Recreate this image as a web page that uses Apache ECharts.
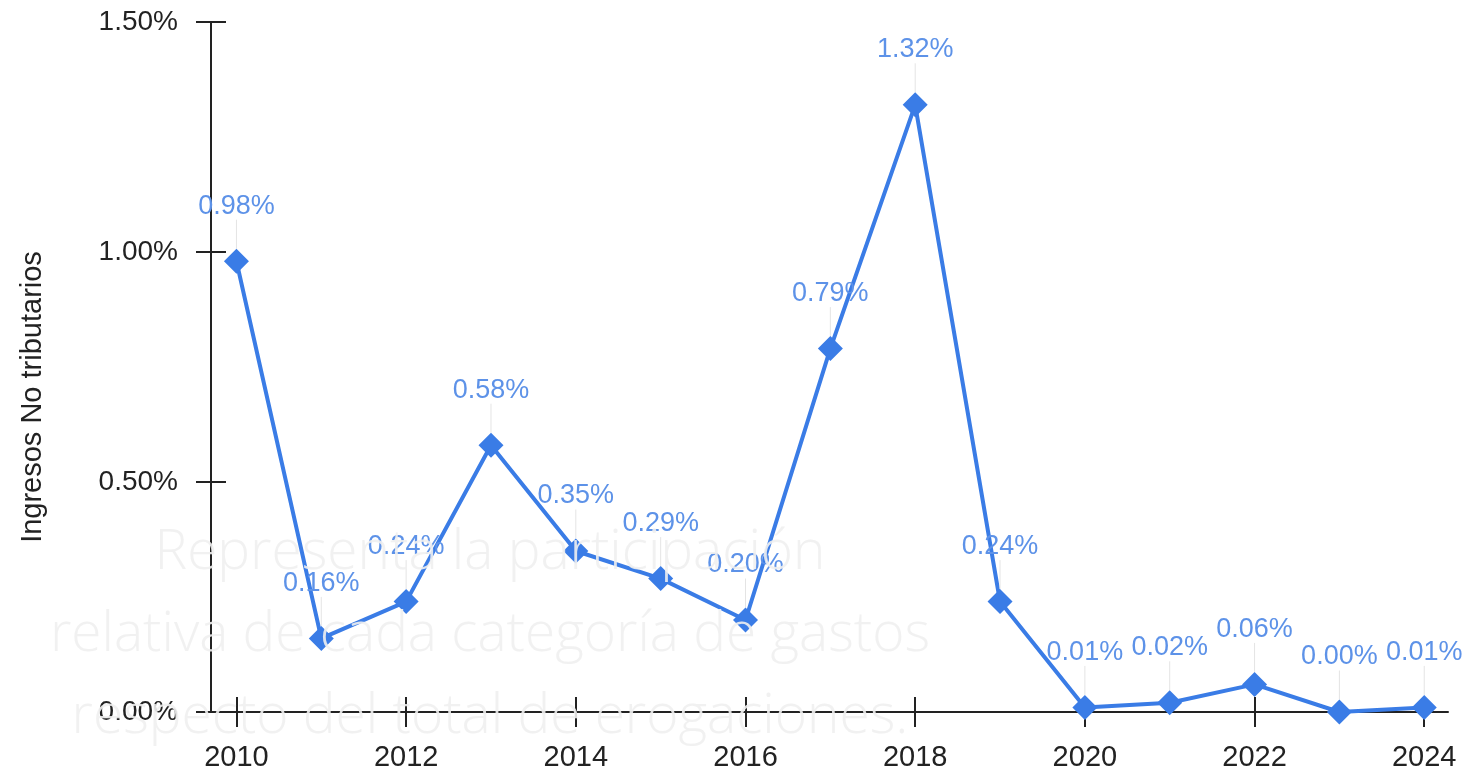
<!DOCTYPE html>
<html><head><meta charset="utf-8">
<script src="https://cdn.jsdelivr.net/npm/echarts@6/dist/echarts.min.js"></script>
<style>html,body{margin:0;padding:0;background:#fff}#c{width:1468px;height:779px}</style>
</head><body><div id="c"></div>
<script>
const years = [2010,2011,2012,2013,2014,2015,2016,2017,2018,2019,2020,2021,2022,2023,2024];
const values = [0.98,0.16,0.24,0.58,0.35,0.29,0.20,0.79,1.32,0.24,0.01,0.02,0.06,0.00,0.01];
const xTicks = [2010,2012,2014,2016,2018,2020,2022,2024];
const yTicks = [0,0.5,1.0,1.5];
const yTitle = 'Ingresos No tributarios';
const watermark = ['Representa la participación','relativa de cada categoría de gastos','respecto del total de erogaciones.'];

const chart = echarts.init(document.getElementById('c'), null, {renderer:'canvas'});
const fam = 'Liberation Sans, Arial, sans-serif';
const xBase = {type:'value', min:2009.7, max:2024.28, splitLine:{show:false}};
const yBase = {type:'value', min:0, max:1.5, interval:0.5, splitLine:{show:false}};
chart.setOption({
  animation:false,
  grid:{left:211, right:20, top:22, bottom:67},
  xAxis:[
    Object.assign({}, xBase, {
      axisLine:{show:true, onZero:false, lineStyle:{color:'#222', width:2}},
      axisTick:{show:true, length:15, customValues:xTicks, lineStyle:{color:'#222', width:2}},
      axisLabel:{margin:31, customValues:xTicks, formatter:v=>String(v), fontFamily:fam, fontSize:29, color:'#222'}
    }),
    Object.assign({}, xBase, {position:'bottom',
      axisLine:{show:false},
      axisTick:{show:true, inside:true, length:15, customValues:xTicks, lineStyle:{color:'#222', width:2}},
      axisLabel:{show:false}
    })
  ],
  yAxis:[
    Object.assign({}, yBase, {
      axisLine:{show:true, lineStyle:{color:'#222', width:2}},
      axisTick:{show:true, length:15, customValues:yTicks, lineStyle:{color:'#222', width:2}},
      axisLabel:{margin:33, customValues:yTicks, formatter:v=>v.toFixed(2)+'%', fontFamily:fam, fontSize:28, color:'#222'}
    }),
    Object.assign({}, yBase, {position:'left',
      axisLine:{show:false},
      axisTick:{show:true, inside:true, length:15, customValues:yTicks, lineStyle:{color:'#222', width:2}},
      axisLabel:{show:false}
    })
  ],
  series:[{
    type:'line',
    data:years.map((y,i)=>[y, values[i]]),
    symbol:'diamond', symbolSize:25,
    lineStyle:{color:'#3a7ce6', width:4},
    itemStyle:{color:'#3a7ce6'},
    label:{show:true, position:'top', distance:5, color:'#5d92e8',
      fontFamily:fam, fontSize:27,
      formatter:p=>p.value[1].toFixed(2)+'%'},
    labelLayout:{dy:-24},
    labelLine:{show:true, lineStyle:{color:'#e4e4e4', width:1}},
    z:3
  }],
  graphic: [{
    type:'text', silent:true, x:33, y:397, rotation:Math.PI/2,
    style:{text:yTitle, textAlign:'center', textVerticalAlign:'middle', fill:'#222', font:'29px '+fam}
  }].concat(watermark.map((t,i)=>({
    type:'text', z:100, silent:true, x:490, y:553+i*82,
    style:{text:t, textAlign:'center', textVerticalAlign:'middle',
      fill:'rgba(240,240,240,0.9)', font:'300 55px "Open Sans", Lato, sans-serif'}
  })))
});
</script></body></html>
